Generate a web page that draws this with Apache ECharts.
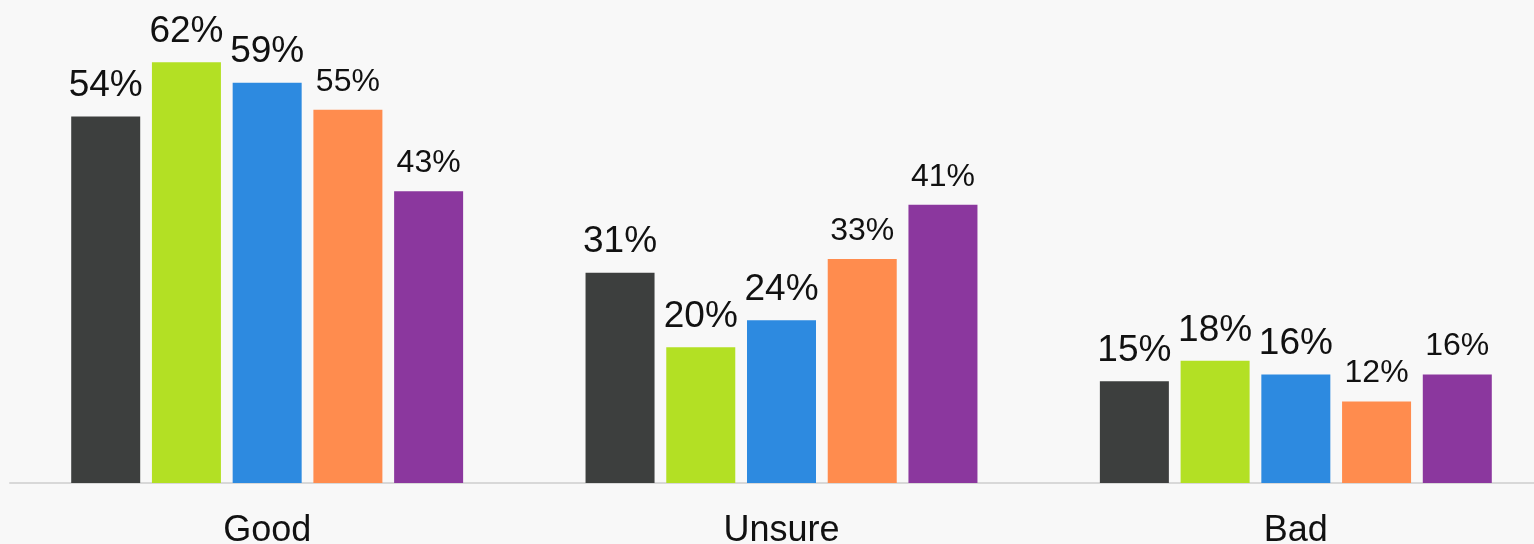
<!DOCTYPE html>
<html>
<head>
<meta charset="utf-8">
<script src="https://cdn.jsdelivr.net/npm/echarts@6/dist/echarts.min.js"></script>
<style>
  html, body { margin: 0; padding: 0; background: #f8f8f8; }
  #container { width: 1534px; height: 544px; }
</style>
</head>
<body>
<div id="container"></div>
<script>
var categories = ['Good', 'Unsure', 'Bad'];
var seriesA = [54, 31, 15];
var seriesB = [62, 20, 18];
var seriesC = [59, 24, 16];
var seriesD = [55, 33, 12];
var seriesE = [43, 41, 16];

var colors = ['#3d3f3e', '#b3e024', '#2d8ae0', '#ff8c4e', '#8b379e'];
var allData = [seriesA, seriesB, seriesC, seriesD, seriesE];
var labelSizes = [37, 37, 37, 32, 32];

var dom = document.getElementById('container');
var myChart = echarts.init(dom, null, { renderer: 'canvas' });

var option = {
  backgroundColor: '#f8f8f8',
  animation: false,
  grid: {
    left: 10, right: -19, top: 8, bottom: 61,
    containLabel: false,
    outerBoundsMode: 'none'
  },
  xAxis: {
    type: 'category',
    data: categories,
    axisLine: { lineStyle: { color: '#d8d8d8', width: 2 } },
    axisTick: { show: false },
    axisLabel: {
      color: '#111',
      fontFamily: 'Liberation Sans',
      fontSize: 36,
      margin: 30
    }
  },
  yAxis: {
    type: 'value',
    min: 0,
    max: 70,
    show: false,
    splitLine: { show: false }
  },
  series: allData.map(function (d, i) {
    return {
      type: 'bar',
      data: d,
      barWidth: 69,
      barGap: '17%',
      itemStyle: { color: colors[i] },
      label: {
        show: true,
        position: 'top',
        distance: 12,
        formatter: '{c}%',
        color: '#111',
        fontFamily: 'Liberation Sans',
        fontSize: labelSizes[i]
      }
    };
  })
};

myChart.setOption(option);
window.addEventListener('resize', myChart.resize);
</script>
</body>
</html>
